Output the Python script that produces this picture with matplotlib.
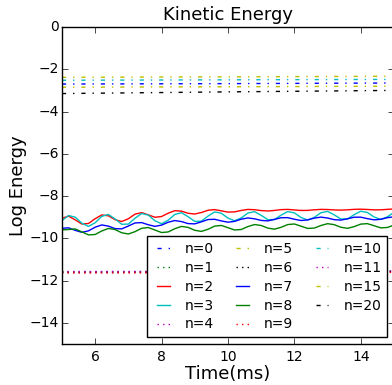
import numpy as np
import matplotlib
matplotlib.use('Agg')
import matplotlib.pyplot as plt

plt.style.use('classic')

# sample times (ms)
t = np.round(np.arange(5.0, 15.01, 0.2), 1)

# oscillating modes, every 0.2 ms
n2 = [-9.05, -8.95, -9.127, -9.325, -9.297, -9.072, -8.892, -8.934, -9.118, -9.204,
      -9.075, -8.857, -8.783, -8.888, -9.004, -8.968, -8.811, -8.691, -8.714, -8.815,
      -8.85, -8.779, -8.672, -8.641, -8.699, -8.759, -8.748, -8.68, -8.632, -8.646,
      -8.687, -8.706, -8.681, -8.642, -8.631, -8.656, -8.682, -8.678, -8.651, -8.631,
      -8.637, -8.656, -8.666, -8.652, -8.629, -8.621, -8.635, -8.653, -8.651, -8.629,
      -8.611]
n3 = [-9.16, -8.922, -8.999, -9.285, -9.435, -9.263, -8.962, -8.87, -9.082, -9.335,
      -9.325, -9.052, -8.827, -8.898, -9.168, -9.31, -9.143, -8.87, -8.788, -8.976,
      -9.199, -9.187, -8.947, -8.75, -8.812, -9.043, -9.169, -9.036, -8.803, -8.738,
      -8.91, -9.115, -9.113, -8.904, -8.734, -8.795, -9.013, -9.131, -9.009, -8.788,
      -8.725, -8.889, -9.086, -9.084, -8.883, -8.717, -8.777, -8.989, -9.104, -8.985,
      -8.769]
n7 = [-9.524, -9.502, -9.623, -9.716, -9.647, -9.472, -9.366, -9.422, -9.54, -9.553,
      -9.418, -9.273, -9.256, -9.357, -9.433, -9.375, -9.238, -9.159, -9.208, -9.303,
      -9.316, -9.22, -9.111, -9.099, -9.177, -9.236, -9.198, -9.094, -9.036, -9.076,
      -9.152, -9.174, -9.105, -9.025, -9.022, -9.096, -9.156, -9.129, -9.044, -8.997,
      -9.039, -9.117, -9.137, -9.075, -9.001, -8.999, -9.068, -9.125, -9.101, -9.023,
      -8.98]
n8 = [-9.6, -9.583, -9.555, -9.696, -9.837, -9.818, -9.652, -9.532, -9.586, -9.736,
      -9.795, -9.685, -9.524, -9.488, -9.606, -9.726, -9.698, -9.545, -9.435, -9.483,
      -9.619, -9.672, -9.571, -9.423, -9.39, -9.496, -9.606, -9.582, -9.444, -9.348,
      -9.392, -9.516, -9.566, -9.479, -9.349, -9.321, -9.425, -9.531, -9.514, -9.393,
      -9.307, -9.353, -9.475, -9.527, -9.447, -9.327, -9.305, -9.403, -9.504, -9.488,
      -9.372]

# nearly flat modes, read at t = 5, 10, 15 ms
t_flat = [5.0, 10.0, 15.0]
n0 = [-2.70, -2.68, -2.65]
n5 = [-2.38, -2.36, -2.33]
n10 = [-2.52, -2.50, -2.48]
n15 = [-2.85, -2.83, -2.80]
n20 = [-3.15, -3.07, -3.00]
n1 = [-11.58, -11.57, -11.55]
n4 = [-11.62, -11.61, -11.59]
n6 = [-11.60, -11.59, -11.57]
n9 = [-11.64, -11.63, -11.61]
n11 = [-11.57, -11.56, -11.54]

fig = plt.figure(figsize=(3.92, 3.85), dpi=100, facecolor='white')
ax = fig.add_axes([0.158, 0.1065, 0.847, 0.8234])

ax.plot(t_flat, n0, 'b-.', label='n=0')
ax.plot(t_flat, n1, 'g:', label='n=1')
ax.plot(t, n2, 'r-', label='n=2')
ax.plot(t, n3, 'c-', label='n=3')
ax.plot(t_flat, n4, 'm:', label='n=4')
ax.plot(t_flat, n5, 'y-.', label='n=5')
ax.plot(t_flat, n6, 'k:', label='n=6')
ax.plot(t, n7, 'b-', label='n=7')
ax.plot(t, n8, 'g-', label='n=8')
ax.plot(t_flat, n9, 'r:', label='n=9')
ax.plot(t_flat, n10, 'c-.', label='n=10')
ax.plot(t_flat, n11, 'm:', label='n=11')
ax.plot(t_flat, n15, 'y-.', label='n=15')
ax.plot(t_flat, n20, 'k-.', label='n=20')

ax.set_xlim(5, 15)
ax.set_ylim(-15, 0)
ax.set_xticks([6, 8, 10, 12, 14])
ax.set_yticks([0, -2, -4, -6, -8, -10, -12, -14])
ax.tick_params(labelsize=10)
ax.tick_params(axis='y', pad=2)
ax.set_title('Kinetic Energy', fontsize=13)
ax.set_xlabel('Time(ms)', fontsize=13, labelpad=1)
ax.set_ylabel('Log Energy', fontsize=13, labelpad=2)
ax.legend(loc='lower right', ncol=3, fontsize=10, handlelength=1.5,
          handletextpad=0.8, columnspacing=1.3, labelspacing=0.35,
          borderpad=0.4, borderaxespad=0.5)

fig.savefig('out.png', dpi=100, facecolor='white')
